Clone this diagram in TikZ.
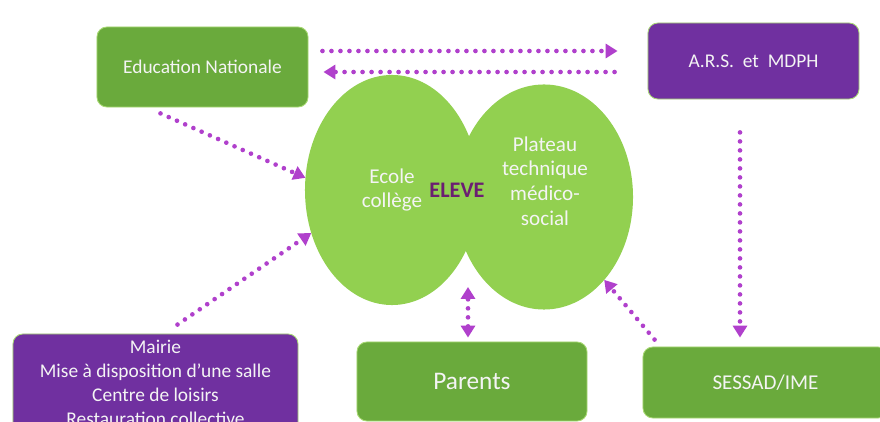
\documentclass[tikz,border=0pt]{standalone}
\usepackage{fontspec}
\setmainfont{Carlito}
\usetikzlibrary{arrows.meta,positioning,calc,shapes.geometric}
\definecolor{ppGreen}{HTML}{6AAA3C}
\definecolor{ppLeaf}{HTML}{92D050}
\definecolor{ppPurple}{HTML}{7030A0}
\definecolor{ppViolet}{HTML}{B040CC}
\definecolor{ppPupil}{HTML}{6B1E72}
\definecolor{ppPaper}{HTML}{F4F4F4}
\tikzset{
  ppTip/.tip={Triangle[length=8.5pt,width=10pt]},
  ppBox/.style={draw=ppLeaf!80!white,line width=0.6pt,fill=ppGreen,
    rounded corners=7pt,text=ppPaper,align=center,inner sep=0pt,
    font=\fontsize{13.8}{17}\selectfont},
  ppAgency/.style={ppBox,fill=ppPurple},
  ppOval/.style={ellipse,fill=ppLeaf,inner sep=0pt,outer sep=0pt},
  ppOvalText/.style={text=ppPaper,align=center,
    font=\fontsize{15}{17.5}\selectfont},
  ppLink/.style={-ppTip,draw=ppViolet,line width=3.3pt,line cap=round,
    dash pattern=on 0pt off 6.4pt}
}
\begin{document}
\begin{tikzpicture}[x=0.025cm,y=0.025cm]
\path[use as bounding box] (0,0) rectangle (880,421);
\clip (0,0) rectangle (880,421);
\fill[white] (0,0) rectangle (880,421);
% partners
\node[ppBox,minimum width=5.275cm,minimum height=2cm] (edu) at (202.5,354)
  {Education Nationale};
\node[ppAgency,minimum width=5.275cm,minimum height=1.9cm] (ars) at (753.5,360)
  {A.R.S.\ \ et\ \ MDPH};
\node[ppAgency,minimum width=7.125cm,minimum height=2.45cm] (mairie) at (155.5,38)
  {Mairie\\Mise à disposition d’une salle\\Centre de loisirs\\Restauration collective};
\node[ppBox,minimum width=5.75cm,minimum height=1.975cm,
  font=\fontsize{18}{21}\selectfont] (parents) at (472,39.5) {Parents};
\node[ppBox,minimum width=6.125cm,minimum height=1.775cm,
  font=\fontsize{15}{18}\selectfont] (sessad) at (765.5,38.5) {SESSAD/IME};
% the pupil between school and care
\node[ppOval,ppOvalText,minimum width=4.35cm,minimum height=5.75cm] (ecole) at (392,231)
  {Ecole\\collège};
\node[ppOval,minimum width=4.45cm,minimum height=5.625cm] (plateau) at (544,224) {};
\node[ppOvalText] (plateauTxt) at (545,240) {Plateau\\technique\\médico-\\social};
\node[font=\bfseries\fontsize{15.8}{18}\selectfont,text=ppPupil] (eleve) at (457,231) {ELEVE};
\coordinate (eleveLow) at (468,134);
% links
\draw[ppLink] ($(edu.east)+(14,16)$) -- ($(ars.west)+(-30,10)$);
\draw[ppLink] ($(ars.west)+(-33,-11)$) -- ($(edu.east)+(15,-5)$);
\draw[ppLink] ($(edu.south)+(-42,-6)$) -- (ecole.172);
\draw[ppLink] ($(mairie.north)+(22,9)$) -- (ecole.208);
\draw[ppLink,ppTip-ppTip] ($(parents.north)+(-4,4)$) -- (eleveLow);
\draw[ppLink] ($(sessad.north west)+(12,7)$) -- (plateau.-54);
\draw[ppLink] ($(ars.south)+(-13.5,-33)$) -- ($(sessad.north)+(-25.5,9)$);
\end{tikzpicture}
\end{document}
